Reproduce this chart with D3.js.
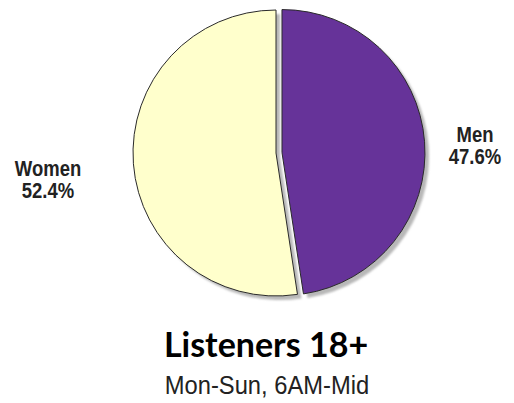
<!DOCTYPE html>
<html><head><meta charset="utf-8">
<script src="https://cdn.jsdelivr.net/npm/d3@7"></script>
<style>html,body{margin:0;padding:0;background:#fff;}svg{display:block;}</style>
</head><body>
<script>
const categories = ["Men", "Women"];
const values = [47.6, 52.4];
const colors = ["#663399", "#FFFFCC"];
const title = "Listeners 18+";
const subtitle = "Mon-Sun, 6AM-Mid";

const W = 514, H = 403;
const svg = d3.select("body").append("svg").attr("width", W).attr("height", H);
const defs = svg.append("defs");
const f = defs.append("filter").attr("id","blur").attr("x","-10%").attr("y","-10%").attr("width","120%").attr("height","120%");
f.append("feGaussianBlur").attr("stdDeviation", 1.2);

const cx = 276, cy = 153, R = 143;
const explode = [6, 0];
const data = categories.map((c,i)=>({cat:c, value:values[i], color:colors[i], explode:explode[i]}));
const pie = d3.pie().sort(null).value(d=>d.value).startAngle(0).endAngle(2*Math.PI);
const arc = d3.arc().innerRadius(0).outerRadius(R);
const arcs = pie(data);
function off(d){const a=(d.startAngle+d.endAngle)/2; return [Math.sin(a)*d.data.explode, -Math.cos(a)*d.data.explode];}

const g = svg.append("g").attr("transform", `translate(${cx},${cy})`);
// shadows
g.selectAll("path.shadow").data(arcs).join("path").attr("class","shadow")
  .attr("d", arc).attr("fill", "#b8b8b8").attr("filter","url(#blur)")
  .attr("transform", d=>{const o=off(d);return `translate(${o[0]+4},${o[1]+4})`;});
g.selectAll("path.slice").data(arcs).join("path").attr("class","slice")
  .attr("d", arc).attr("fill", d=>d.data.color).attr("stroke","#2a2a2a").attr("stroke-width",1)
  .attr("transform", d=>{const o=off(d);return `translate(${o[0]},${o[1]})`;});

// labels (condensed sans emulated by horizontal scaling)
const labelPos = {"Men":[475,142], "Women":[48,176]};
const lf = "'Liberation Sans',Arial,sans-serif";
arcs.forEach(d=>{
  const p = labelPos[d.data.cat];
  const t = svg.append("text").attr("transform",`translate(${p[0]},${p[1]}) scale(0.84,1)`)
    .attr("text-anchor","middle")
    .attr("font-family", lf).attr("font-weight","bold").attr("font-size",22).attr("fill","#222");
  t.append("tspan").attr("x",0).text(d.data.cat);
  t.append("tspan").attr("x",0).attr("dy",22.5).text(d3.format(".1f")(d.data.value)+"%");
});

svg.append("text").attr("x",266).attr("y",357).attr("text-anchor","middle")
  .attr("font-family","Lato,'Open Sans',sans-serif").attr("font-weight","bold").attr("font-size",34)
  .attr("fill","#000").text(title);
svg.append("text").attr("transform","translate(267,394) scale(0.95,1)").attr("text-anchor","middle")
  .attr("font-family", lf).attr("font-size",25)
  .attr("fill","#222").text(subtitle);
</script>
</body></html>
